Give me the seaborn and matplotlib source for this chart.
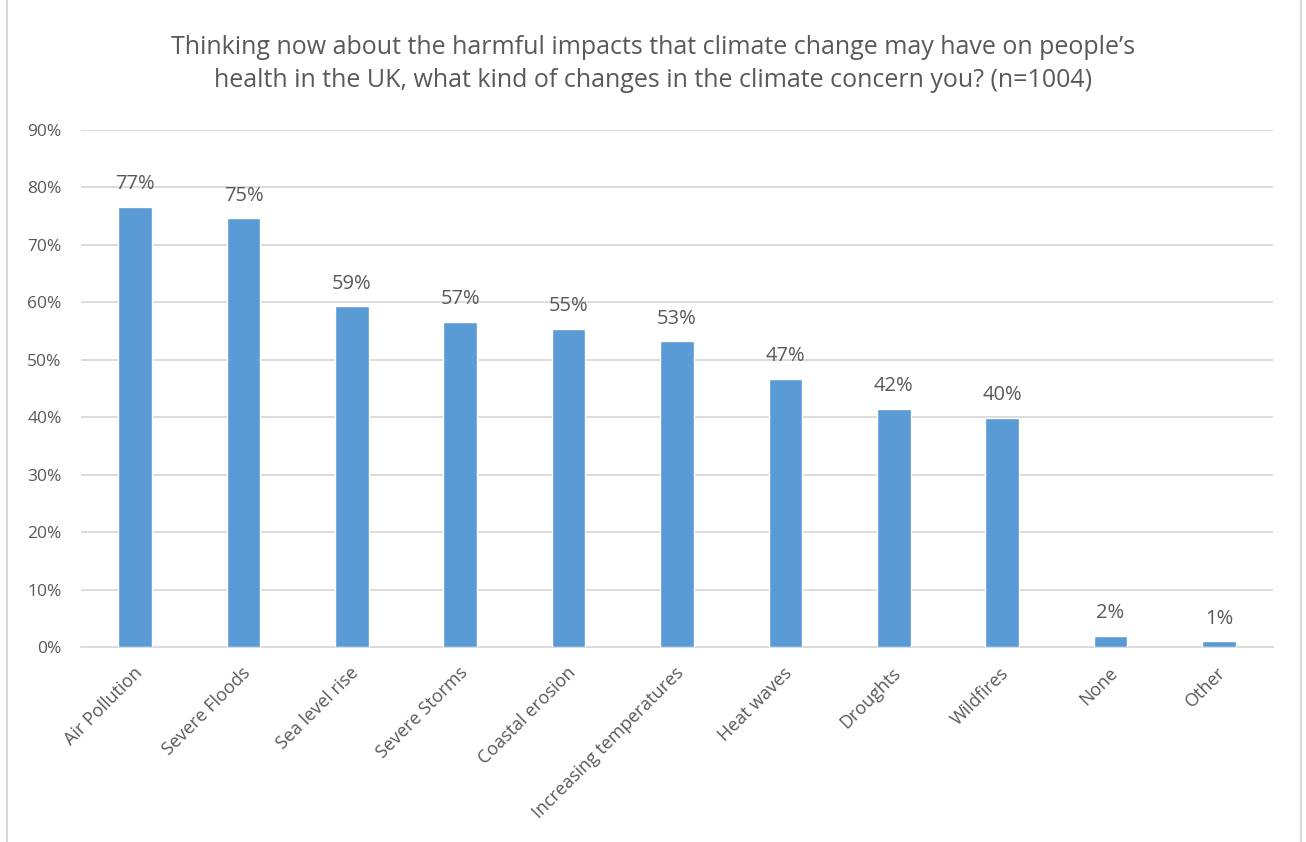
import matplotlib
matplotlib.use("Agg")
import matplotlib.pyplot as plt
from matplotlib.lines import Line2D
import matplotlib.transforms as mtransforms
import seaborn as sns
import pandas as pd

categories = ["Air Pollution", "Severe Floods", "Sea level rise", "Severe Storms",
              "Coastal erosion", "Increasing temperatures", "Heat waves", "Droughts",
              "Wildfires", "None", "Other"]
shares = [76.6, 74.6, 59.3, 56.6, 55.4, 53.2, 46.7, 41.5, 39.9, 2.0, 1.0]
y_ticks = [0, 10, 20, 30, 40, 50, 60, 70, 80, 90]
title = ("Thinking now about the harmful impacts that climate change may have on people\u2019s\n"
         "health in the UK, what kind of changes in the climate concern you? (n=1004)")

df = pd.DataFrame({"category": categories, "share": shares})

sns.set_theme(style="white")
plt.rcParams["font.family"] = ["Open Sans", "DejaVu Sans"]

TEXT = "#595959"
GRID = "#D9D9D9"
BAR = "#5B9BD5"

fig = plt.figure(figsize=(13.06, 8.42), dpi=100)
ax = fig.add_axes([81 / 1306, 1 - 647 / 842, (1273 - 81) / 1306, (647 - 130) / 842])

sns.barplot(data=df, x="category", y="share", color=BAR, width=0.31,
            saturation=1, ax=ax, zorder=3)

ax.set_ylim(0, 90)
ax.set_xlim(-0.5, len(categories) - 0.5)
ax.set_yticks(y_ticks)
ax.set_yticklabels([f"{t}%" for t in y_ticks], fontsize=12.5, color=TEXT)
ax.yaxis.grid(True, color=GRID, linewidth=1.3, zorder=0)
ax.set_axisbelow(True)
ax.set_xlabel("")
ax.set_ylabel("")
for side in ["top", "right", "left"]:
    ax.spines[side].set_visible(False)
ax.spines["bottom"].set_color(GRID)
ax.spines["bottom"].set_linewidth(1.3)
ax.tick_params(axis="both", length=0)
ax.tick_params(axis="y", pad=14)
ax.set_xticks(range(len(categories)))
ax.set_xticklabels(categories, rotation=45, ha="right", rotation_mode="anchor",
                   fontsize=13, color=TEXT)
shift = mtransforms.ScaledTranslation(-0.02, -0.12, fig.dpi_scale_trans)
for lbl in ax.get_xticklabels():
    lbl.set_transform(lbl.get_transform() + shift)

for i, v in enumerate(shares):
    ax.annotate(f"{v:.0f}%", (i, v), xytext=(0, 9), textcoords="offset points",
                ha="center", va="bottom", fontsize=14.5, color=TEXT)

fig.text(0.5, 1 - 64 / 842, title, ha="center", va="center", fontsize=18,
         color=TEXT, linespacing=1.4)

for x in (7 / 1306, 1301 / 1306):
    fig.add_artist(Line2D([x, x], [0, 1], transform=fig.transFigure, color=GRID, linewidth=1.5))

fig.savefig("out.png", dpi=100, facecolor="white")
